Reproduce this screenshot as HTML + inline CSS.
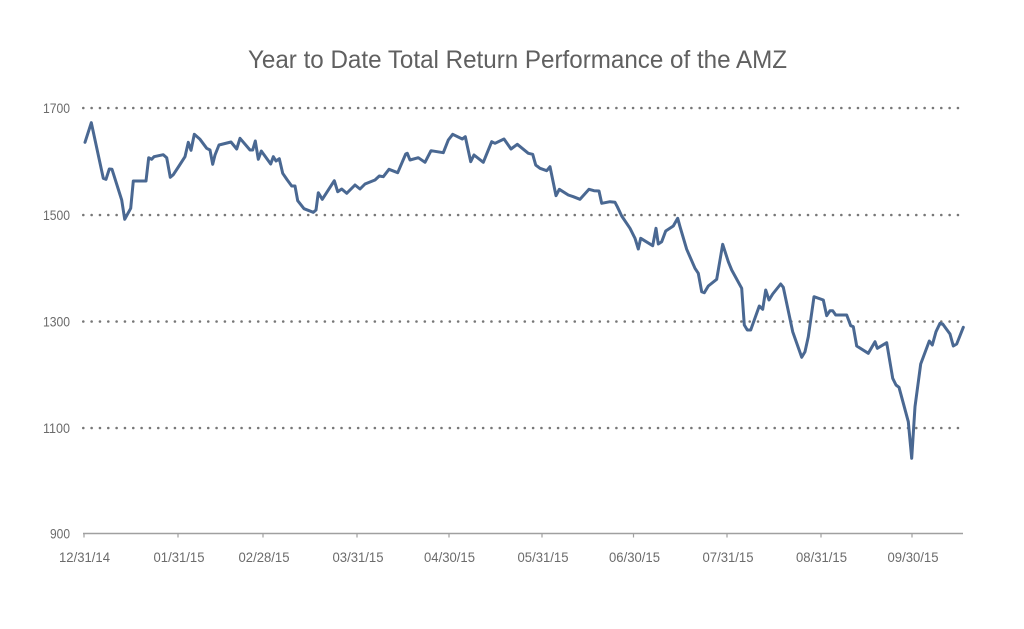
<!DOCTYPE html>
<html>
<head>
<meta charset="utf-8">
<style>
html,body{margin:0;padding:0;background:#fff;}
svg{display:block;}
text{font-family:"Liberation Sans",sans-serif;}
</style>
</head>
<body>
<svg width="1024" height="629" viewBox="0 0 1024 629" xmlns="http://www.w3.org/2000/svg">
<rect width="1024" height="629" fill="#fff"/>
<text x="248" y="68" font-size="25" fill="#606060" textLength="539" lengthAdjust="spacingAndGlyphs">Year to Date Total Return Performance of the AMZ</text>

<g stroke="#777" stroke-width="2.6" stroke-linecap="round" stroke-dasharray="0 8.33">
<line x1="83.3" y1="108" x2="966" y2="108"/>
<line x1="83.3" y1="215" x2="966" y2="215"/>
<line x1="83.3" y1="321.5" x2="966" y2="321.5"/>
<line x1="83.3" y1="428" x2="966" y2="428"/>
</g>

<g font-size="14" fill="#6b6b6b" text-anchor="end">
<text x="70" y="113" textLength="27" lengthAdjust="spacingAndGlyphs">1700</text>
<text x="70" y="220" textLength="27" lengthAdjust="spacingAndGlyphs">1500</text>
<text x="70" y="326.5" textLength="27" lengthAdjust="spacingAndGlyphs">1300</text>
<text x="70" y="433" textLength="27" lengthAdjust="spacingAndGlyphs">1100</text>
<text x="70" y="538.5" textLength="20" lengthAdjust="spacingAndGlyphs">900</text>
</g>

<line x1="83" y1="533.5" x2="963" y2="533.5" stroke="#a0a0a0" stroke-width="1.5"/>
<g stroke="#a0a0a0" stroke-width="1.2">
<line x1="84" y1="533" x2="84" y2="537.5"/>
<line x1="178" y1="533" x2="178" y2="537.5"/>
<line x1="263" y1="533" x2="263" y2="537.5"/>
<line x1="357" y1="533" x2="357" y2="537.5"/>
<line x1="449" y1="533" x2="449" y2="537.5"/>
<line x1="542" y1="533" x2="542" y2="537.5"/>
<line x1="633.5" y1="533" x2="633.5" y2="537.5"/>
<line x1="727" y1="533" x2="727" y2="537.5"/>
<line x1="821" y1="533" x2="821" y2="537.5"/>
<line x1="912" y1="533" x2="912" y2="537.5"/>
</g>

<g font-size="13.5" fill="#6b6b6b" text-anchor="middle">
<text x="84.5" y="562" textLength="51" lengthAdjust="spacingAndGlyphs">12/31/14</text>
<text x="179" y="562" textLength="51" lengthAdjust="spacingAndGlyphs">01/31/15</text>
<text x="264" y="562" textLength="51" lengthAdjust="spacingAndGlyphs">02/28/15</text>
<text x="358" y="562" textLength="51" lengthAdjust="spacingAndGlyphs">03/31/15</text>
<text x="449.5" y="562" textLength="51" lengthAdjust="spacingAndGlyphs">04/30/15</text>
<text x="543" y="562" textLength="51" lengthAdjust="spacingAndGlyphs">05/31/15</text>
<text x="634.5" y="562" textLength="51" lengthAdjust="spacingAndGlyphs">06/30/15</text>
<text x="728" y="562" textLength="51" lengthAdjust="spacingAndGlyphs">07/31/15</text>
<text x="821.5" y="562" textLength="51" lengthAdjust="spacingAndGlyphs">08/31/15</text>
<text x="913" y="562" textLength="51" lengthAdjust="spacingAndGlyphs">09/30/15</text>
</g>

<polyline fill="none" stroke="#4a6892" stroke-width="3" stroke-linejoin="round" stroke-linecap="round" points="
85,142.3 91.3,122.7 103.3,178.3 106,179.3 109.3,169 112,169.3 121.7,200 124.7,219.3 130.7,208.3 133.3,181 146,181 148.7,157.7 151.7,159.3 154,156.7 163.3,154.7 166.7,157.7 170.3,177.3 173.3,174.7 179,166 185,156.7 188.3,142.3 191,150.3 194.3,134.3 200,139.3 206.7,148.3 210,150 212.7,164.3 215,155 219,145 231,142 236.7,149 240,138.3 250,150 252.7,150 255.3,141 258.3,159.3 261.3,151 270.7,164 273.3,156.7 276,161 279.3,158.7 282.7,173.3 287.3,180 291.7,186 295,186 297.7,200.7 304,208.7 313.3,212.3 316,210 318.3,192.7 322.3,199.3 334.3,180.7 337.7,191.7 341.7,189 346.7,193.3 355,185 360,189 365,184 375,180 379.3,176 383.3,176.7 389,169.3 397.7,172.7 405.7,154 407.3,153.3 410,160 418.3,157.7 425,162.3 431,150.7 443.3,152.7 448.3,140 452.7,134.3 462.3,139 465.3,136.7 470.7,161.7 474,155 483.3,162.3 491.7,141.7 495,143.3 504,139 511,149 517.3,144.3 528.3,153.3 532.7,154.3 535.7,165 540,168.3 546.7,170.7 550,166.7 556,195.7 559.3,189.3 568.3,195 573.3,196.7 580,199.3 589,189.3 594,190.7 599,191 601.7,203.3 610,201.7 615,202.3 617.3,206.7 621.7,216 630,228.3 635,238.3 638.3,249 640.7,238.3 652.7,245.7 656,228.3 658.3,244 661.7,241.7 665.7,231 673.3,226 677.7,218.3 680,226.7 686.7,249.3 695,268.3 698.3,273.3 701.7,291.7 704.3,292.7 708.3,286 716.7,279.3 722.7,244.3 728.3,261.7 731.7,270 741.7,288.3 744.3,325 747.3,330 750.7,330 759.3,306 762.7,309.3 765.7,290 769,300 772.7,294 780.7,284 783.3,287.3 792.7,331.7 801.7,357.3 805,351.7 808.3,336.7 814,296.7 823.3,300 826.7,315.7 830,310.7 832.7,310.7 835.7,315 846.7,315 850.7,325.7 853.3,326.7 856.7,346 868.3,353.3 875,341.7 877.3,348.3 886.7,342.7 892.7,378.3 896,385 899,387.3 908.3,421.7 911.7,458.3 915,406.7 920.7,364 929.3,341 932.3,345 936,331.7 940,323.3 942.7,324 950,334 953.3,346 956.7,344 963.3,327.3"/>
</svg>
</body>
</html>
